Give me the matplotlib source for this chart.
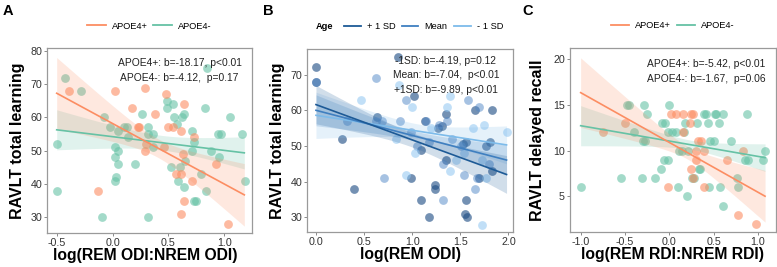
import matplotlib
matplotlib.use("Agg")
import matplotlib.pyplot as plt
import numpy as np
from matplotlib.lines import Line2D

plt.rcParams['font.family'] = ['Liberation Sans', 'DejaVu Sans']

ORANGE = '#FC8D62'
GREEN = '#66C2A5'

# ---- panel A: RAVLT total learning vs log(REM ODI:NREM ODI)
a_neg_x = [-0.43, -0.50, -0.50, -0.28, 0.85, -0.08, -0.02, 0.05, 0.10, 0.13, 0.14, 0.02, 0.05,
           0.02, 0.05, 0.03, 0.02, 0.20, -0.09, 0.32, 0.26, 0.32, 0.32, 0.36, 0.36, 0.49, 0.49,
           0.54, 0.55, 0.58, 0.52, 0.60, 0.59, 0.62, 0.64, 0.65, 0.64, 0.71, 0.71, 0.73, 0.73,
           0.75, 0.79, 0.83, 0.84, 0.88, 0.94, 0.97, 0.95, 1.05, 1.16, 1.19]
a_neg_y = [72, 52, 38, 68, 75, 60, 57, 56, 57, 57, 54, 51, 50, 48, 46, 42, 41, 46, 30, 30, 61,
           57, 55, 55, 51, 65, 63, 64, 60, 58, 45, 45, 41, 60, 61, 47, 39, 50, 56, 52.5, 35, 35,
           43, 63, 38, 50, 55, 55, 48, 60, 55, 41]
a_pos_x = [-0.39, -0.13, 0.02, 0.29, 0.17, 0.23, 0.24, 0.38, 0.48, 0.30, 0.29, 0.46, 0.50, 0.54,
           0.61, 0.64, 0.57, 0.61, 0.63, 0.73, 0.71, 0.64, 0.61, 0.93, 1.03]
a_pos_y = [68, 38, 68, 69, 63, 57, 57, 61, 67, 52, 50, 51, 57, 57, 56, 64, 43, 43, 49, 54, 41,
           35, 31, 46, 28]
# fit: intercept, slope, ci centre, ci min half-width, ci spread
a_pos_fit = [58.2, -18.17, 0.40, 2.8, 11.5]
a_neg_fit = [54.24, -4.12, 0.45, 2.2, 5.9]
a_xfit = [-0.50, 1.18]
a_text = ['APOE4+: b=-18.17, p<0.01', 'APOE4-: b=-4.12,  p=0.17']

# ---- panel B: RAVLT total learning vs log(REM ODI), moderated by age
b_x = [0.0, 0.0, 0.0, 0.62, 0.85, 0.47, 0.32, 0.27, 0.40, 0.63, 0.62, 0.69, 0.71, 0.87, 0.86,
       0.94, 1.02, 1.00, 0.99, 0.94, 0.99, 1.03, 1.05, 1.09, 1.09, 1.17, 1.13, 1.14, 1.17, 1.20,
       1.24, 1.24, 1.27, 1.31, 1.28, 1.32, 1.35, 1.36, 1.36, 1.39, 1.41, 1.35, 1.32, 1.39, 1.45,
       1.51, 1.53, 1.56, 1.54, 1.54, 1.56, 1.55, 1.57, 1.58, 1.63, 1.65, 1.69, 1.67, 1.69, 1.65,
       1.72, 1.73, 1.75, 1.77, 1.77, 1.81, 1.80, 1.83, 1.83, 1.98, 0.83]
b_y = [72, 68, 68, 69, 75, 63, 57, 52, 38, 58, 57, 57, 41, 57, 67,
       63, 64, 61, 54, 42, 41, 48, 50, 49, 35, 30, 57, 57, 51, 55,
       39, 38, 55, 55.5, 56, 35, 59, 61, 57, 64, 52, 46, 45, 43, 46,
       50, 50.5, 51, 48, 42, 35, 31, 30, 63, 55, 60, 61, 41, 41, 38,
       46, 28, 56, 41, 50, 51, 45, 43, 60, 54, 52]
b_age = ['D', 'D', 'M', 'M', 'D', 'L', 'M', 'D', 'D', 'D', 'M', 'M', 'M', 'M', 'L',
         'M', 'D', 'L', 'M', 'L', 'D', 'L', 'M', 'D', 'D', 'D', 'D', 'M', 'M', 'L',
         'D', 'D', 'D', 'D', 'M', 'M', 'D', 'L', 'M', 'L', 'M', 'D', 'M', 'L', 'L',
         'M', 'D', 'D', 'L', 'M', 'D', 'D', 'D', 'M', 'L', 'D', 'M', 'M', 'D', 'M',
         'L', 'L', 'L', 'L', 'D', 'D', 'M', 'D', 'D', 'L', 'L']
b_levels = ['+ 1 SD', 'Mean', '- 1 SD']
b_fits = [[61.6, -9.89, 1.0, 2.0, 5.0],
          [60.0, -7.04, 1.0, 1.4, 4.1],
          [58.6, -4.19, 1.1, 2.0, 5.6]]
b_xfit = [0.0, 1.98]
b_text = ['-1SD: b=-4.19, p=0.12', 'Mean: b=-7.04,  p<0.01', '+1SD: b=-9.89, p<0.01']

# ---- panel C: RAVLT delayed recall vs log(REM RDI:NREM RDI)
c_neg_x = [-1.00, -0.55, -0.31, -0.16, -0.48, -0.45, -0.29, -0.25, -0.40, -0.30, -0.27, 0.00,
           -0.08, -0.05, -0.01, 0.03, -0.06, -0.02, -0.09, 0.10, 0.08, 0.11, 0.14, 0.18, 0.17,
           0.20, 0.21, 0.26, 0.28, 0.31, 0.33, 0.35, 0.39, 0.41, 0.44, 0.45, 0.46, 0.50, 0.51,
           0.53, 0.56, 0.57, 0.61, 0.61, 0.70, 0.76, 0.78, 0.88, 0.85, 0.89, 1.08, 1.06]
c_neg_y = [6, 7, 7, 7, 15, 15, 15, 14, 12, 11, 11, 15, 13, 13, 12, 12, 9, 9, 8, 6, 12, 10, 10,
           13, 12, 5, 10, 7, 7, 13, 8, 8, 14, 14, 13, 6, 11, 11, 14, 14, 13, 6, 14, 4, 11, 7, 6,
           14, 9, 9, 10, 9]
c_pos_x = [-0.75, -0.50, 0.02, 0.08, 0.16, 0.25, 0.27, 0.15, 0.23, 0.32, 0.36, 0.30, 0.24, 0.27,
           0.30, 0.39, 0.39, -0.02, 0.65, 0.83, 0.78, 0.98]
c_pos_y = [12, 13, 14, 14, 14, 14, 14, 12, 13, 11, 11, 9, 8, 7, 10, 10, 6, 6, 9, 10, 3, 2]
c_pos_fit = [10.88, -5.42, 0.20, 0.7, 3.1]
c_neg_fit = [11.03, -1.67, 0.25, 0.5, 1.7]
c_xfit = [-1.0, 1.08]
c_text = ['APOE4+: b=-5.42, p<0.01', 'APOE4-: b=-1.67,  p=0.06']

B_LINE = {'+ 1 SD': '#1D5A96', 'Mean': '#3F7FC0', '- 1 SD': '#7DBBEA'}
B_DOT = {'D': ('#1F4E85', 0.62), 'M': ('#4F86C6', 0.5), 'L': ('#8EC6F2', 0.55)}


def fit_band(ax, xr, fit, color):
    b0, b1, x0, h0, k = fit
    xs = np.linspace(xr[0], xr[1], 100)
    yhat = b0 + b1 * xs
    hw = np.sqrt(h0 ** 2 + (k * (xs - x0)) ** 2)
    ax.fill_between(xs, yhat - hw, yhat + hw, color=color, alpha=0.2, lw=0, zorder=3)
    ax.plot(xs, yhat, color=color, lw=1.2, zorder=4)


def style(ax, xlim, ylim, xticks, yticks, xlabel, ylabel, xl_x, yl_x):
    ax.set_xlim(xlim)
    ax.set_ylim(ylim)
    ax.set_xticks(xticks)
    ax.set_xticklabels([f'{t:.1f}' for t in xticks])
    ax.set_yticks(yticks)
    for s in ax.spines.values():
        s.set_color('#9a9a9a')
        s.set_linewidth(0.9)
    ax.tick_params(length=2.5, width=0.7, color='#8a8a8a', labelsize=7.7,
                   labelcolor='#333333', pad=1.2)
    ax.set_xlabel(xlabel, fontsize=11.3, fontweight='bold', va='top')
    ax.set_ylabel(ylabel, fontsize=11.5, fontweight='bold')
    ax.xaxis.set_label_coords(xl_x, -0.08)
    ax.yaxis.set_label_coords(yl_x, 0.5)


def apoe_legend(ax):
    handles = [Line2D([], [], color=ORANGE, lw=1.3), Line2D([], [], color=GREEN, lw=1.3)]
    ax.legend(handles, ['APOE4+', 'APOE4-'], loc='center', bbox_to_anchor=(0.5, 1.12),
              ncol=2, frameon=False, fontsize=6.7, handlelength=2.0, columnspacing=0.6,
              handletextpad=0.65, borderaxespad=0)


fig = plt.figure(figsize=(7.77, 2.67), dpi=100)
axA = fig.add_axes([0.0609, 0.1273, 0.263, 0.692])
axB = fig.add_axes([0.3955, 0.1311, 0.2651, 0.687])
axC = fig.add_axes([0.7336, 0.130, 0.2647, 0.6917])

# A
axA.scatter(a_neg_x, a_neg_y, s=40, color=GREEN, alpha=0.6, lw=0, zorder=2)
axA.scatter(a_pos_x, a_pos_y, s=40, color=ORANGE, alpha=0.6, lw=0, zorder=2)
fit_band(axA, a_xfit, a_neg_fit, GREEN)
fit_band(axA, a_xfit, a_pos_fit, ORANGE)
for t, yy in zip(a_text, [0.92, 0.839]):
    axA.text(0.647, yy, t, transform=axA.transAxes, ha='center', va='center', fontsize=7.4,
             color='#222222', zorder=6)
style(axA, (-0.584, 1.246), (25.3, 80.8), [-0.5, 0.0, 0.5, 1.0], [30, 40, 50, 60, 70, 80],
      'log(REM ODI:NREM ODI)', 'RAVLT total learning', 0.48, -0.109)
apoe_legend(axA)

# B
for lev in ['D', 'M', 'L']:
    xs = [x for x, a in zip(b_x, b_age) if a == lev]
    ys = [y for y, a in zip(b_y, b_age) if a == lev]
    axB.scatter(xs, ys, s=40, color=B_DOT[lev][0], alpha=B_DOT[lev][1], lw=0, zorder=2)
for lev, fit in zip(b_levels[::-1], b_fits[::-1]):
    fit_band(axB, b_xfit, fit, B_LINE[lev])
for t, yy in zip(b_text, [0.93, 0.855, 0.775]):
    axB.text(0.673, yy, t, transform=axB.transAxes, ha='center', va='center', fontsize=7.4,
             color='#222222', zorder=6)
style(axB, (-0.09, 2.05), (25.9, 77.3), [0.0, 0.5, 1.0, 1.5, 2.0], [30, 40, 50, 60, 70],
      'log(REM ODI)', 'RAVLT total learning', 0.5, -0.108)
handles = [Line2D([], [], color=B_LINE[l], lw=1.3) for l in b_levels]
axB.legend(handles, b_levels, loc='center', bbox_to_anchor=(0.564, 1.12), ncol=3,
           frameon=False, fontsize=6.7, handlelength=1.8, columnspacing=0.7,
           handletextpad=0.65, borderaxespad=0)
axB.text(0.125, 1.12, 'Age', transform=axB.transAxes, ha='right', va='center',
         fontsize=6.7, fontweight='bold')

# C
axC.scatter(c_neg_x, c_neg_y, s=40, color=GREEN, alpha=0.6, lw=0, zorder=2)
axC.scatter(c_pos_x, c_pos_y, s=40, color=ORANGE, alpha=0.6, lw=0, zorder=2)
fit_band(axC, c_xfit, c_neg_fit, GREEN)
fit_band(axC, c_xfit, c_pos_fit, ORANGE)
for t, yy in zip(c_text, [0.909, 0.828]):
    axC.text(0.661, yy, t, transform=axC.transAxes, ha='center', va='center', fontsize=7.4,
             color='#222222', zorder=6)
style(axC, (-1.12, 1.2), (1.1, 21.2), [-1.0, -0.5, 0.0, 0.5, 1.0], [5, 10, 15, 20],
      'log(REM RDI:NREM RDI)', 'RAVLT delayed recall', 0.5, -0.122)
apoe_legend(axC)

for lab, x in zip(['A', 'B', 'C'], [0.003, 0.338, 0.672]):
    fig.text(x, 0.985, lab, fontsize=10.5, fontweight='bold', ha='left', va='top')

fig.savefig('out.png', dpi=100)
